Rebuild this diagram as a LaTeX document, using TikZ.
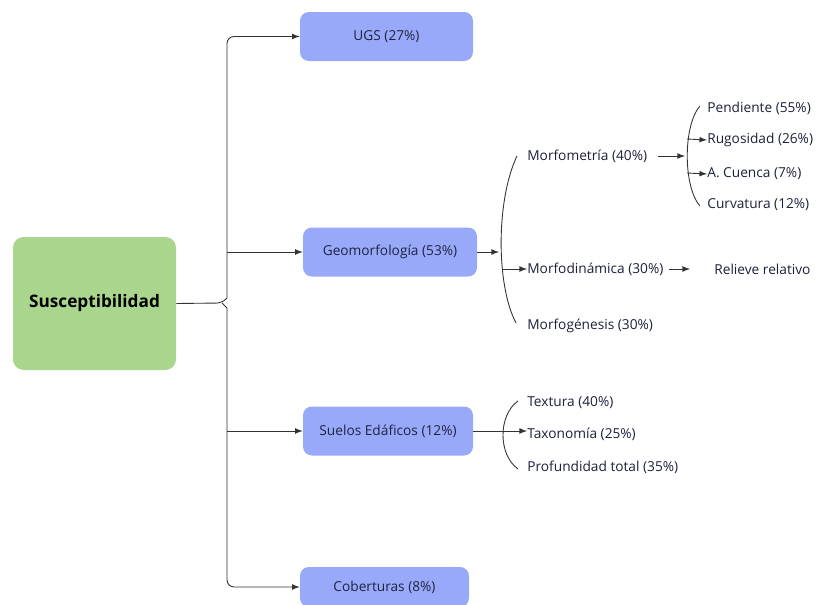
\documentclass[tikz,border=0pt]{standalone}
\usepackage{fontspec}
\setmainfont{Open Sans}
\usepackage{xcolor}
\usepackage{tikz}
\usetikzlibrary{arrows}
\definecolor{verde}{HTML}{A9D58C}
\definecolor{azul}{HTML}{98A9FA}
\definecolor{tinta}{HTML}{1F2440}
\tikzstyle{raiz}=[rectangle,rounded corners=6,fill=verde,minimum width=163*0.02cm,minimum height=133*0.02cm,font=\fontsize{9.8}{11}\selectfont\bfseries]
\tikzstyle{caja}=[rectangle,rounded corners=5,fill=azul,text=tinta,minimum height=49*0.02cm,font=\fontsize{7.8}{9}\selectfont]
\tikzstyle{hoja}=[anchor=west,inner sep=0pt,text=tinta!90!black,font=\fontsize{7.8}{9}\selectfont]
\tikzstyle{linea}=[draw=black!80,line width=0.5pt]

\begin{document}
\begin{tikzpicture}[x=0.02cm,y=-0.02cm,>=latex]
        \useasboundingbox (0,0) rectangle (819,605);
        \node at ( 94.5,303.5) [raiz] (sus) {Susceptibilidad};
        \node at (386.5, 36.5) [caja,minimum width=173*0.02cm] (ugs) {UGS (27\%)};
        \node at (390  ,252  ) [caja,minimum width=174*0.02cm] (geo) {Geomorfología (53\%)};
        \node at (388  ,431  ) [caja,minimum width=170*0.02cm] (sue) {Suelos Edáficos (12\%)};
        \node at (384.5,587  ) [caja,minimum width=169*0.02cm,minimum height=40*0.02cm] (cob) {Coberturas (8\%)};
        % tronco
        \draw [linea,rounded corners=3] (sus.east) -- (222,303) -- (227,298);
        \draw [linea,rounded corners=3] (222,303) -- (227,308);
        \draw [linea,->,rounded corners=4] (227,298) |- (ugs.west);
        \draw [linea,->,rounded corners=4] (227,308) |- (cob.west);
        \draw [linea,->] (227,252) -- (geo.west);
        \draw [linea,->] (227,431) -- (sue.west);
        % geomorfologia
        \node at (527,156) [hoja] (mfm) {Morfometría (40\%)};
        \node at (527,269) [hoja] (mfd) {Morfodinámica (30\%)};
        \node at (527,326) [hoja] (mfg) {Morfogénesis (30\%)};
        \node at (714,269) [hoja] (rel) {Relieve relativo};
        \coordinate (g1) at (517,156);
        \coordinate (g2) at (516,323);
        \draw [linea] (g1) .. controls (496,200) and (496,285) .. (g2);
        \draw [linea,->] (geo.east) -- (499,252);
        \draw [linea,->] (503,269) -- (mfd.west);
        \draw [linea,->] ([xshift=3]mfd.east) -- (690,269);
        % morfometria
        \node at (707,108) [hoja] (pen) {Pendiente (55\%)};
        \node at (707,140) [hoja] (rug) {Rugosidad (26\%)};
        \node at (707,174) [hoja] (cue) {A. Cuenca (7\%)};
        \node at (707,205) [hoja] (cur) {Curvatura (12\%)};
        \coordinate (m1) at (700,106);
        \coordinate (m2) at (700,206);
        \coordinate (m0) at (685,156);
        \draw [linea] (m1) .. controls (683,125) and (683,187) .. (m2);
        \draw [linea,->] ([xshift=6]mfm.east) -- (m0);
        \draw [linea,->] (687,139) -- (rug.west);
        \draw [linea,->] (687,173) -- (cue.west);
        % suelos
        \node at (527,403) [hoja] (tex) {Textura (40\%)};
        \node at (527,434) [hoja] (tax) {Taxonomía (25\%)};
        \node at (527,467) [hoja] (pro) {Profundidad total (35\%)};
        \coordinate (s1) at (518,401);
        \coordinate (s2) at (518,469);
        \draw [linea] (s1) .. controls (498,415) and (498,455) .. (s2);
        \draw [linea,->] (sue.east) -- (sue.east -| tax.west);
      \end{tikzpicture}
\end{document}
